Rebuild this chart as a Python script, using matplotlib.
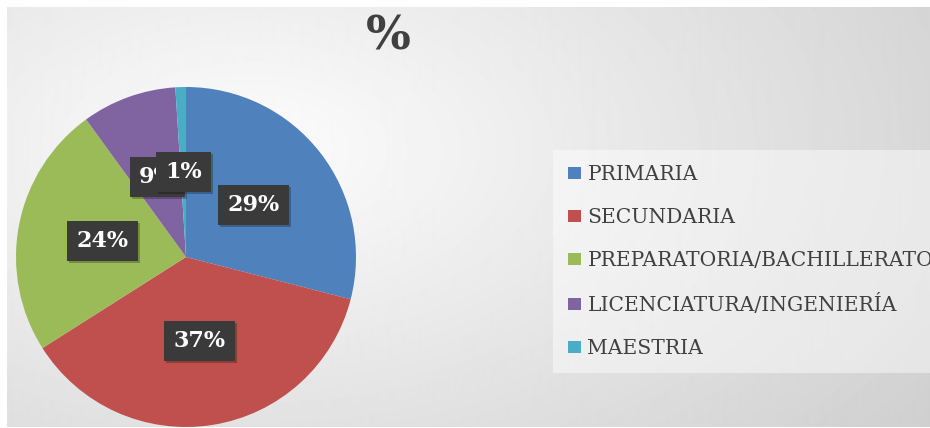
import numpy as np
import matplotlib
matplotlib.use("Agg")
import matplotlib.pyplot as plt
import matplotlib.patheffects as pe

# data
categories = ["PRIMARIA", "SECUNDARIA", "PREPARATORIA/BACHILLERATO",
              "LICENCIATURA/INGENIERÍA", "MAESTRIA"]
values = [29, 37, 24, 9, 1]
colors = ["#4F81BD", "#C0504D", "#9BBB59", "#8064A2", "#4BACC6"]
title = "%"

W, H = 930, 428
fig = plt.figure(figsize=(W / 100, H / 100), dpi=100)

# background: soft radial grey gradient with a thin white margin top/left
yy, xx = np.mgrid[0:H, 0:W]
d = np.sqrt(((xx - 250) / 800.0) ** 2 + ((yy - 150) / 450.0) ** 2)
bg_vals = np.clip(0.99 - 0.17 * d, 0, 1)
bg_vals[:7, :] = 1.0
bg_vals[:, :7] = 1.0
bg_vals[-1:, :] = 1.0
bg = fig.add_axes([0, 0, 1, 1])
bg.imshow(bg_vals, cmap="gray", vmin=0, vmax=1, aspect="auto",
          interpolation="bilinear")
bg.axis("off")

# pie axes, sized in pixels (centre 186,171 from bottom; radius 170)
cx, cy, r, half = 186, 171, 170, 200
ax = fig.add_axes([(cx - half) / W, (cy - half) / H, 2 * half / W, 2 * half / H])
wedges, texts, autotexts = ax.pie(
    values, colors=colors, startangle=90, counterclock=False,
    autopct=lambda p: f"{p:.0f}%", pctdistance=0.5,
    wedgeprops=dict(edgecolor="none"),
    textprops=dict(color="white", fontsize=16, fontweight="bold",
                   family="DejaVu Serif"))
lim = half / r
ax.set_xlim(-lim, lim)
ax.set_ylim(-lim, lim)
ax.set_aspect("auto")
ax.axis("off")

for t in autotexts:
    t.set_bbox(dict(boxstyle="square,pad=0.42", fc="#3a3a3a", ec="none"))
    t.get_bbox_patch().set_path_effects(
        [pe.withSimplePatchShadow(offset=(1.5, -1.5), shadow_rgbFace="black", alpha=0.25),
         pe.Normal()])

# legend
leg = fig.legend(wedges, categories, loc="upper left",
                 bbox_to_anchor=(553 / W, 1 - 150 / H),
                 frameon=True, fancybox=False, borderaxespad=0,
                 prop=dict(family="DejaVu Serif", size=14.6),
                 labelcolor="#404040", handlelength=0.65, handleheight=0.55,
                 handletextpad=0.3, labelspacing=1.18, borderpad=0.75)
leg.get_frame().set_facecolor("white")
leg.get_frame().set_alpha(0.45)
leg.get_frame().set_edgecolor("none")

fig.text(388 / W, 1 - 36 / H, title, ha="center", va="center",
         fontsize=34, fontweight="bold", color="#404040", family="DejaVu Serif")

fig.savefig("out.png", dpi=100)
